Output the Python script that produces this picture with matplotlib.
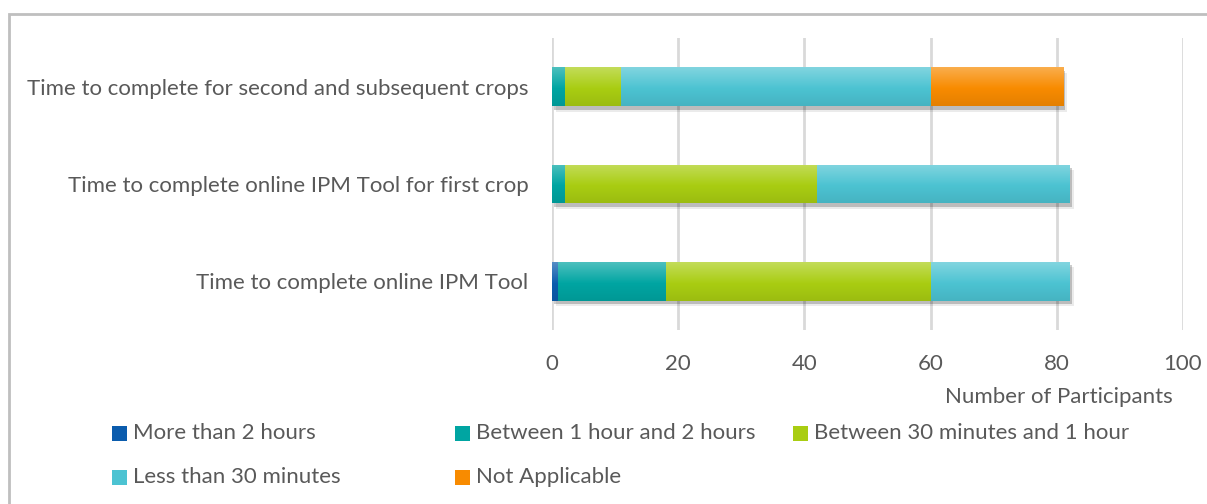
import numpy as np
import matplotlib.pyplot as plt
import matplotlib.patheffects as pe
from matplotlib.colors import to_rgb
from matplotlib.patches import Rectangle

plt.rcParams['font.family'] = ['Lato', 'DejaVu Sans']

categories = ["Time to complete online IPM Tool",
              "Time to complete online IPM Tool for first crop",
              "Time to complete for second and subsequent crops"]
series_names = ["More than 2 hours", "Between 1 hour and 2 hours",
                "Between 30 minutes and 1 hour", "Less than 30 minutes",
                "Not Applicable"]
more_2h = [1, 0, 0]
between_1_2h = [17, 2, 2]
between_30m_1h = [42, 40, 9]
less_30m = [22, 40, 49]
not_applicable = [0, 0, 21]
series = [more_2h, between_1_2h, between_30m_1h, less_30m, not_applicable]
colors = ["#0b5cad", "#00a5a2", "#a9cd12", "#4cc3d2", "#f88b00"]
xticks = [0, 20, 40, 60, 80, 100]

txt = "#595959"
fs = 16
W, H = 1207, 504
fig = plt.figure(figsize=(W / 100, H / 100), dpi=100)
ax = fig.add_axes([552 / W, 1 - 330 / H, (1183 - 552) / W, (330 - 38) / H])

# outer chart border (left/top visible)
fig.patches.append(Rectangle((9 / W, -0.1), 1.2, 1 - 14 / H + 0.1,
                             transform=fig.transFigure, fill=False,
                             edgecolor="#bfbfbf", linewidth=2))


def grad(c):
    c = np.array(to_rgb(c))
    top = c + (1 - c) * 0.3
    bot = c * 0.92
    t = np.linspace(0, 1, 64)[:, None]
    up = top + (c - top) * np.clip(t / 0.55, 0, 1)
    dn = c + (bot - c) * np.clip((t - 0.55) / 0.45, 0, 1)
    g = np.where(t < 0.55, up, dn)
    return g[:, None, :]


y = np.arange(len(categories))
left = np.zeros(len(categories))
for vals, c in zip(series, colors):
    vals = np.array(vals, dtype=float)
    bars = ax.barh(y, vals, left=left, height=0.4, color=c, zorder=2,
                   linewidth=0)
    for b in bars:
        if b.get_width() <= 0:
            continue
        b.set_path_effects([pe.SimplePatchShadow(offset=(1.5, -2.5), alpha=0.2,
                                                 shadow_rgbFace="#000000"),
                            pe.SimplePatchShadow(offset=(3, -4), alpha=0.08,
                                                 shadow_rgbFace="#000000"),
                            pe.Normal()])
        x0, y0 = b.get_x(), b.get_y()
        im = ax.imshow(grad(c), extent=[x0, x0 + b.get_width(), y0, y0 + b.get_height()],
                       origin="upper", aspect="auto", zorder=3, interpolation="bilinear")
        im.set_clip_path(b)
    left += vals

ax.set_xlim(0, 100)
ax.set_ylim(-0.5, 2.5)
ax.set_xticks(xticks)
ax.set_yticks(y)
ax.set_yticklabels(categories)
ax.grid(axis="x", color="#d9d9d9", linewidth=2, zorder=0)
ax.set_axisbelow(True)
for s in ax.spines.values():
    s.set_visible(False)
ax.tick_params(length=0, labelsize=fs, colors=txt)
ax.tick_params(axis="x", pad=17)
ax.tick_params(axis="y", pad=17)

fig.text(1059 / W, 1 - 397 / H, "Number of Participants", ha="center", va="center",
         fontsize=fs, color=txt)

# legend, row-major like the original
lx = [112, 455, 793]
ly = [433, 477]
for i, (name, c) in enumerate(zip(series_names, colors)):
    px, py = lx[i % 3], ly[i // 3]
    fig.patches.append(Rectangle((px / W, 1 - (py + 7.5) / H), 15 / W, 15 / H,
                                 transform=fig.transFigure, facecolor=c,
                                 edgecolor="none"))
    fig.text((px + 21) / W, 1 - py / H, name, ha="left", va="center",
             fontsize=fs, color=txt)

fig.savefig("out.png", dpi=100)
